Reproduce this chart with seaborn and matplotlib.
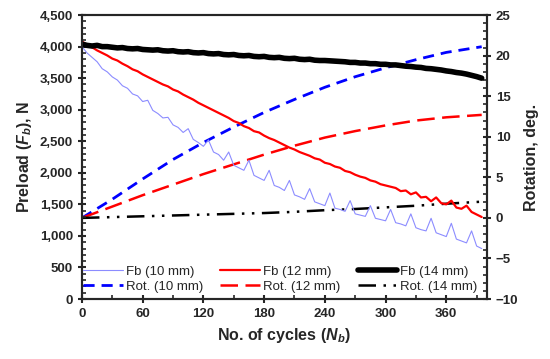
"""Preload loss and nut rotation vs. number of cycles."""
import numpy as np
import seaborn as sns
import matplotlib.pyplot as plt
from matplotlib.ticker import MultipleLocator, FuncFormatter

# preload, sampled every 5 cycles
cycles_fb = list(range(0, 400, 5))
fb_10 = [4000, 3900, 3830, 3760, 3650, 3600, 3520, 3470, 3380, 3340,
         3250, 3220, 3130, 3150, 2990, 2940, 2870, 2880, 2760, 2720,
         2640, 2700, 2530, 2480, 2420, 2520, 2330, 2290, 2200, 2330,
         2120, 2080, 2040, 2200, 1960, 1920, 1880, 2040, 1800, 1770,
         1720, 1880, 1650, 1620, 1580, 1750, 1540, 1510, 1480, 1680,
         1440, 1420, 1390, 1560, 1350, 1330, 1310, 1480, 1280, 1260,
         1240, 1420, 1210, 1190, 1160, 1350, 1130, 1100, 1080, 1280,
         1050, 1020, 990, 1200, 950, 920, 890, 1080, 840, 800]
fb_12 = [4080, 4030, 3990, 3940, 3900, 3860, 3810, 3780, 3730, 3690,
         3640, 3610, 3560, 3520, 3480, 3440, 3400, 3370, 3320, 3290,
         3240, 3200, 3160, 3110, 3070, 3030, 2990, 2950, 2910, 2870,
         2820, 2790, 2740, 2710, 2660, 2640, 2590, 2550, 2520, 2480,
         2440, 2400, 2370, 2330, 2300, 2270, 2230, 2210, 2160, 2140,
         2100, 2080, 2030, 2010, 1970, 1940, 1920, 1880, 1860, 1820,
         1800, 1780, 1760, 1710, 1720, 1660, 1690, 1610, 1620, 1550,
         1610, 1520, 1500, 1560, 1450, 1430, 1480, 1380, 1340, 1300]
fb_14 = [4040, 4020, 4010, 4020, 4000, 4000, 3990, 3980, 3985, 3970,
         3965, 3970, 3955, 3950, 3945, 3950, 3935, 3930, 3935, 3920,
         3915, 3920, 3905, 3900, 3905, 3890, 3885, 3890, 3875, 3870,
         3875, 3860, 3855, 3860, 3845, 3840, 3845, 3830, 3825, 3830,
         3815, 3810, 3815, 3800, 3795, 3800, 3785, 3780, 3780, 3775,
         3770, 3765, 3760, 3750, 3750, 3740, 3740, 3730, 3730, 3720,
         3720, 3710, 3710, 3700, 3690, 3685, 3675, 3670, 3655, 3650,
         3640, 3630, 3615, 3605, 3590, 3580, 3565, 3545, 3525, 3500]

# rotation of the nut
cycles_rot = [0, 30, 60, 90, 120, 150, 180, 210, 240, 270, 300, 330, 360, 395]
rot_10 = [0, 2.3, 4.8, 7.2, 9.3, 11.2, 13.0, 14.6, 16.1, 17.4, 18.5, 19.5, 20.4, 21.1]
rot_12 = [0, 1.4, 2.8, 4.1, 5.4, 6.6, 7.8, 8.9, 9.9, 10.7, 11.4, 12.0, 12.4, 12.7]
rot_14 = [0, 0.1, 0.2, 0.3, 0.4, 0.5, 0.6, 0.75, 0.95, 1.1, 1.3, 1.5, 1.75, 2.0]

sns.set_style("ticks")
plt.rcParams['font.family'] = ['Liberation Sans', 'DejaVu Sans']
plt.rcParams['mathtext.fontset'] = 'custom'
plt.rcParams['mathtext.rm'] = 'Liberation Sans:bold'
plt.rcParams['mathtext.it'] = 'Liberation Sans:bold:italic'

fig, ax = plt.subplots(figsize=(5.5, 3.59), dpi=100)
fig.subplots_adjust(left=0.149, right=0.885, top=0.958, bottom=0.167)
ax2 = ax.twinx()

# right-axis lines first, then preload on top
sns.lineplot(x=cycles_rot, y=rot_10, ax=ax2, color='#0000ff', lw=2,
             linestyle=(0, (4, 2.5)))
sns.lineplot(x=cycles_rot, y=rot_12, ax=ax2, color='#ff0000', lw=1.8,
             linestyle=(0, (7, 3)))
sns.lineplot(x=cycles_rot, y=rot_14, ax=ax2, color='black', lw=1.8,
             linestyle=(0, (7, 3, 1, 3, 1, 3)))

sns.lineplot(x=cycles_fb, y=fb_10, ax=ax, color='#8c8cff', lw=0.8)
sns.lineplot(x=cycles_fb, y=fb_12, ax=ax, color='#ff0000', lw=1.6)
sns.lineplot(x=cycles_fb, y=fb_14, ax=ax, color='black', lw=4)
ax.set_zorder(ax2.get_zorder() + 1)
ax.patch.set_visible(False)

ax.set_xlim(0, 400)
ax.set_ylim(0, 4500)
ax2.set_ylim(-10, 25)
ax.xaxis.set_major_locator(MultipleLocator(60))
ax.xaxis.set_minor_locator(MultipleLocator(30))
ax.yaxis.set_major_locator(MultipleLocator(500))
ax.yaxis.set_minor_locator(MultipleLocator(100))
ax2.yaxis.set_major_locator(MultipleLocator(5))
ax2.yaxis.set_minor_locator(MultipleLocator(1))
ax.yaxis.set_major_formatter(FuncFormatter(lambda v, p: f'{int(v):,}'))
ax.set_xticks([0, 60, 120, 180, 240, 300, 360])

for a in (ax, ax2):
    a.tick_params(which='major', direction='inout', length=6, width=1.5,
                  labelsize=9.5)
    a.tick_params(which='minor', direction='in', length=3, width=1.2)
    for lbl in a.get_yticklabels() + a.get_xticklabels():
        lbl.set_fontweight('bold')
    for s in a.spines.values():
        s.set_linewidth(1.5)

ax.set_xlabel('No. of cycles ($N_b$)', fontsize=11.5, fontweight='bold')
ax.set_ylabel('Preload ($F_b$), N', fontsize=11.5, fontweight='bold')
ax2.set_ylabel('Rotation, deg.', fontsize=11.5, fontweight='bold')

handles = [ax.lines[0], ax2.lines[0], ax.lines[1], ax2.lines[1],
           ax.lines[2], ax2.lines[2]]
labels = ['Fb (10 mm)', 'Rot. (10 mm)', 'Fb (12 mm)', 'Rot. (12 mm)',
          'Fb (14 mm)', 'Rot. (14 mm)']
ax.legend(handles, labels, ncol=3, frameon=False, fontsize=9.5,
          loc='lower center', bbox_to_anchor=(0.49, -0.02),
          handlelength=3.0, handletextpad=0.25, columnspacing=1.3,
          labelspacing=0.2)

plt.savefig('out.png', dpi=100)
